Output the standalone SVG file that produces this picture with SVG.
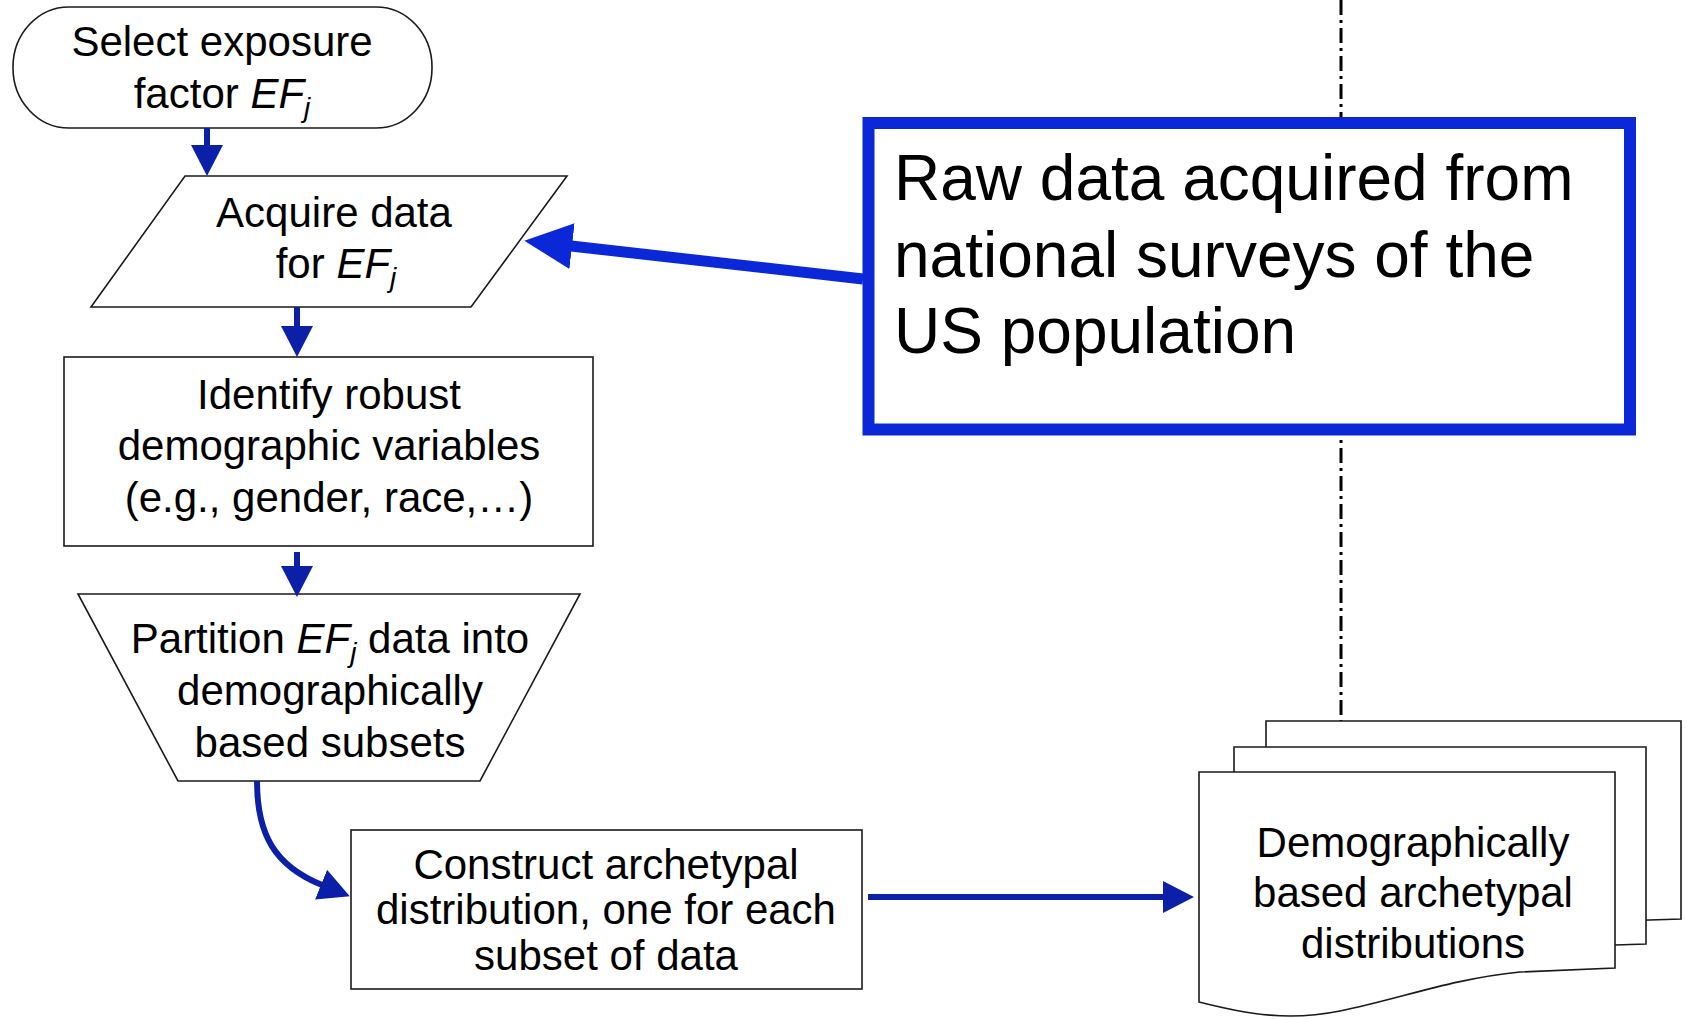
<svg xmlns="http://www.w3.org/2000/svg" width="1687" height="1019" viewBox="0 0 1687 1019">
  <style>
    .shape { fill: #ffffff; stroke: #1a1a1a; stroke-width: 1.6; }
    .label { font-family: "Liberation Sans", Arial, sans-serif; font-size: 42px; fill: #000000; text-anchor: middle; }
    .big { font-family: "Liberation Sans", Arial, sans-serif; font-size: 64px; fill: #000000; }
    .it { font-style: italic; }
    .sub { font-style: italic; font-size: 28px; }
    .flow { fill: none; stroke: #0b1fa8; stroke-width: 6; }
    .feed { fill: none; stroke: #0a28d8; stroke-width: 11; }
  </style>
  <defs>
    <marker id="head" markerUnits="userSpaceOnUse" markerWidth="31" markerHeight="32" viewBox="0 0 31 32" refX="1" refY="16" orient="auto">
      <path d="M0,0 L31,16 L0,32 z" fill="#0b1fa8"/>
    </marker>
    <marker id="headBig" markerUnits="userSpaceOnUse" markerWidth="48" markerHeight="46" viewBox="0 0 48 46" refX="1" refY="23" orient="auto">
      <path d="M0,0 L48,23 L0,46 z" fill="#0a28d8"/>
    </marker>
  </defs>

  <!-- survey timeline divider -->
  <line x1="1341" y1="0" x2="1341" y2="722" stroke="#000" stroke-width="3" stroke-dasharray="15 5 3 5"/>

  <g id="select">
    <rect class="shape" x="13" y="7" width="419" height="121" rx="56" ry="60"/>
    <text class="label" x="222" y="56">Select exposure</text>
    <text class="label" x="222" y="108">factor <tspan class="it">EF</tspan><tspan class="sub" dy="9">j</tspan></text>
  </g>

  <g id="acquire">
    <polygon class="shape" points="185,176 567,176 471,307 91,307"/>
    <text class="label" x="334" y="227">Acquire data</text>
    <text class="label" x="336" y="278">for <tspan class="it">EF</tspan><tspan class="sub" dy="9">j</tspan></text>
  </g>

  <g id="identify">
    <rect class="shape" x="64" y="357" width="529" height="189"/>
    <text class="label" x="329" y="409">Identify robust</text>
    <text class="label" x="329" y="460">demographic variables</text>
    <text class="label" x="329" y="512">(e.g., gender, race,…)</text>
  </g>

  <g id="partition">
    <polygon class="shape" points="78,594 580,594 480,781 178,781"/>
    <text class="label" x="330" y="653">Partition <tspan class="it">EF</tspan><tspan class="sub" dy="9">j</tspan><tspan dy="-9"> data into</tspan></text>
    <text class="label" x="330" y="705">demographically</text>
    <text class="label" x="330" y="757">based subsets</text>
  </g>

  <g id="construct">
    <rect class="shape" x="351" y="830" width="511" height="159"/>
    <text class="label" x="606" y="879">Construct archetypal</text>
    <text class="label" x="606" y="924">distribution, one for each</text>
    <text class="label" x="606" y="970">subset of data</text>
  </g>

  <g id="distributions">
    <path class="shape" d="M1266,721 H1681 V919 L1586,922 C1516,929 1466,949 1406,961 C1356,971 1316,965 1266,953 Z"/>
    <path class="shape" d="M1234,747 H1646 V944 L1552,947 C1484,954 1434,974 1374,986 C1324,996 1284,990 1234,978 Z"/>
    <path class="shape" d="M1199,772 H1615 V968 L1520,972 C1450,979 1400,999 1340,1011 C1290,1021 1250,1015 1199,1002 Z"/>
    <text class="label" x="1413" y="857">Demographically</text>
    <text class="label" x="1413" y="907">based archetypal</text>
    <text class="label" x="1413" y="958">distributions</text>
  </g>

  <g id="surveys">
    <rect x="868.5" y="123" width="761.5" height="306.5" fill="#ffffff" stroke="#0a28d8" stroke-width="12"/>
    <text class="big" x="894" y="200">Raw data acquired from</text>
    <text class="big" x="894" y="277">national surveys of the</text>
    <text class="big" x="894" y="353">US population</text>
  </g>

  <g id="connectors">
    <line class="flow" x1="207" y1="128" x2="207" y2="146" marker-end="url(#head)"/>
    <line class="flow" x1="297" y1="307" x2="297" y2="327" marker-end="url(#head)"/>
    <line class="flow" x1="297" y1="552" x2="297" y2="567" marker-end="url(#head)"/>
    <path class="flow" d="M257,781 C257,835 275,866 322,885" marker-end="url(#head)"/>
    <line class="flow" x1="868" y1="897" x2="1164" y2="897" marker-end="url(#head)"/>
    <line class="feed" x1="863" y1="279" x2="571" y2="246" marker-end="url(#headBig)"/>
  </g>
</svg>
